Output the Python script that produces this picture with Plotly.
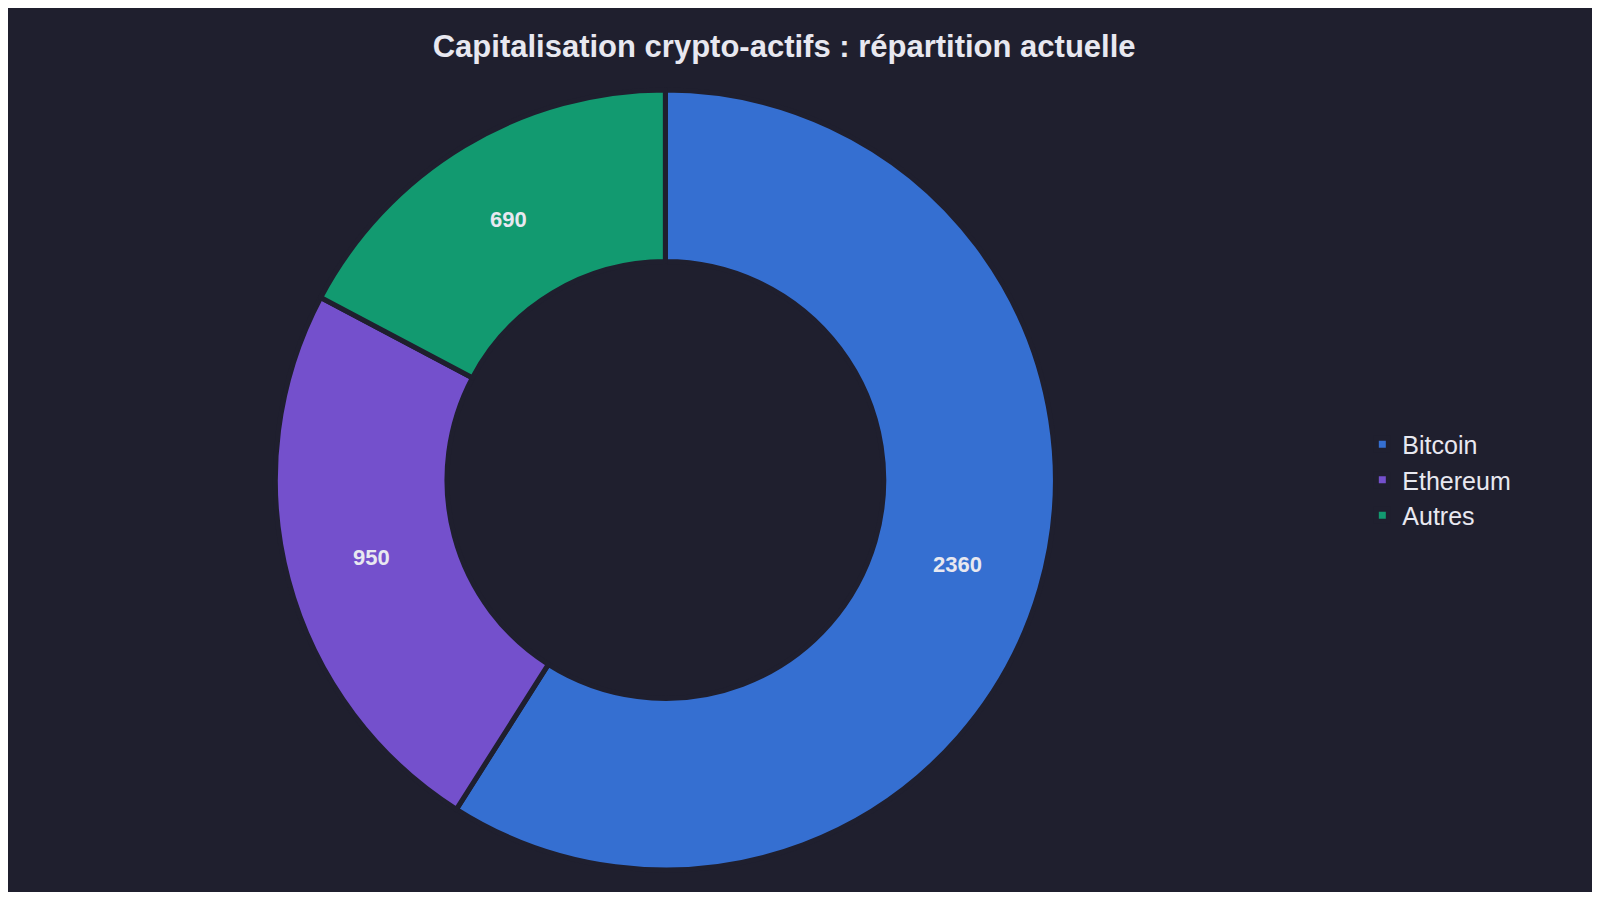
import plotly.graph_objects as go

labels = ["Bitcoin", "Ethereum", "Autres"]
values = [2360, 950, 690]
colors = ["#356fd1", "#7450cc", "#129a70"]
bg = "#1f1f2e"

fig = go.Figure(go.Pie(
    labels=labels, values=values, hole=0.56, sort=False, direction="clockwise",
    domain=dict(x=[0.0, 0.83], y=[0, 1]),
    marker=dict(colors=colors, line=dict(color=bg, width=5)),
    textinfo="value", texttemplate="<b>%{value}</b>",
    textfont=dict(size=22, color="#e8e8f0", family="Liberation Sans"),
))
fig.update_layout(
    title=dict(text="<b>Capitalisation crypto-actifs : répartition actuelle</b>",
               x=0.49, xanchor="center", y=0.957, yanchor="middle",
               font=dict(size=31, color="#e8e8f0", family="Liberation Sans")),
    paper_bgcolor=bg, plot_bgcolor=bg,
    font=dict(family="Liberation Sans", color="#e8e8f0"),
    legend=dict(font=dict(size=25, color="#e8e8f0"), x=0.855, y=0.5, yanchor="middle",
                tracegroupgap=10),
    margin=dict(l=0, r=0, t=82, b=22),
)
fig.write_html("out.html")
